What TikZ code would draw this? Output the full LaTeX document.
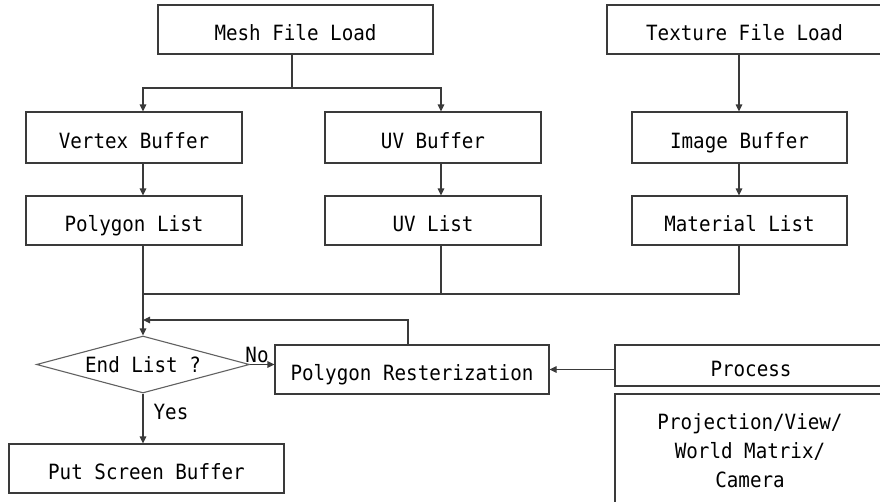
\documentclass[tikz,border=0pt]{standalone}
\usepackage{fontspec}
\setmonofont[FakeStretch=0.915]{DejaVu Sans Mono}
\usetikzlibrary{arrows.meta,shapes.geometric}
\definecolor{linegray}{HTML}{3A3A3A}
\tikzset{
  box/.style={draw=linegray, line width=1.1pt, rectangle, inner sep=0pt,
    text height=21pt, text depth=0pt, font=\ttfamily\fontsize{21}{29}\selectfont},
  decision/.style={draw=linegray!80, line width=1.1pt, diamond, inner sep=0pt,
    minimum width=213pt, minimum height=57pt, shape aspect=3.74,
    font=\ttfamily\fontsize{21}{29}\selectfont},
  lbl/.style={inner sep=0pt, font=\ttfamily\fontsize{21}{29}\selectfont},
  conn/.style={draw=linegray, line width=1.1pt},
  arr/.style={conn, -{Triangle[length=7pt,width=6.5pt]}},
}
\begin{document}
\begin{tikzpicture}[x=1pt,y=-1pt]
\clip (0,0) rectangle (880,501);
\fill[white] (0,0) rectangle (880,501);

% columns of the connector lines
\coordinate (colA) at (143,0);
\coordinate (colB) at (441,0);
\coordinate (colC) at (739,0);
\coordinate (fork) at (292,88);
\coordinate (merge) at (143,294);
\coordinate (loop) at (408,320);

% mesh branch
\node[box, minimum width=275pt, minimum height=49pt] (mesh) at (295.5,29.5) {Mesh File Load};
\node[box, minimum width=216pt, minimum height=51pt] (vbuf) at (134,137.5) {Vertex Buffer};
\node[box, minimum width=216pt, minimum height=49pt] (plist) at (134,220.5) {Polygon List};
\node[box, minimum width=216pt, minimum height=51pt] (uvbuf) at (433,137.5) {UV Buffer};
\node[box, minimum width=216pt, minimum height=49pt] (uvlist) at (433,220.5) {UV List};

% texture branch
\node[box, minimum width=275pt, minimum height=49pt] (tex) at (744.5,29.5) {Texture File Load};
\node[box, minimum width=215pt, minimum height=51pt] (img) at (739.5,137.5) {Image Buffer};
\node[box, minimum width=215pt, minimum height=49pt] (mat) at (739.5,220.5) {Material List};

% rendering loop
\node[decision] (dec) at (143,364.5) {End List ?};
\node[box, minimum width=274pt, minimum height=49pt] (poly) at (412,369.5) {Polygon Resterization};
\node[box, minimum width=275pt, minimum height=49pt] (put) at (146.5,468.5) {Put Screen Buffer};
\node[box, minimum width=272pt, minimum height=41pt] (proc) at (751,365.5) {Process};
\node[box, minimum width=270pt, minimum height=114pt, align=center,
      text height=, text depth=] (proj) at (750,451)
      {Projection/View/\\World Matrix/\\Camera};

% connectors
\draw[conn] (mesh.south -| fork) -- (fork);
\draw[arr] (fork) -| (vbuf.north -| colA);
\draw[arr] (fork) -| (uvbuf.north -| colB);
\draw[arr] (vbuf.south -| colA) -- (plist.north -| colA);
\draw[arr] (uvbuf.south -| colB) -- (uvlist.north -| colB);
\draw[arr] (tex.south -| colC) -- (img.north -| colC);
\draw[arr] (img.south -| colC) -- (mat.north -| colC);

\draw[conn] (plist.south -| colA) -- (merge);
\draw[conn] (uvlist.south -| colB) |- (merge);
\draw[conn] (mat.south -| colC) |- (merge);
\draw[arr] (merge) -- (dec.north);

\draw[arr] (poly.north -| loop) |- (loop -| colA);
\draw[arr] (dec.east) -- (dec.east -| poly.west);
\node[lbl] (no) at (257,355) {No};
\draw[arr] (dec.south) -- (put.north -| dec.south);
\node[lbl] (yes) at (171,412) {Yes};
\draw[arr] (poly.east -| proc.west) -- (poly.east);
\end{tikzpicture}
\end{document}
